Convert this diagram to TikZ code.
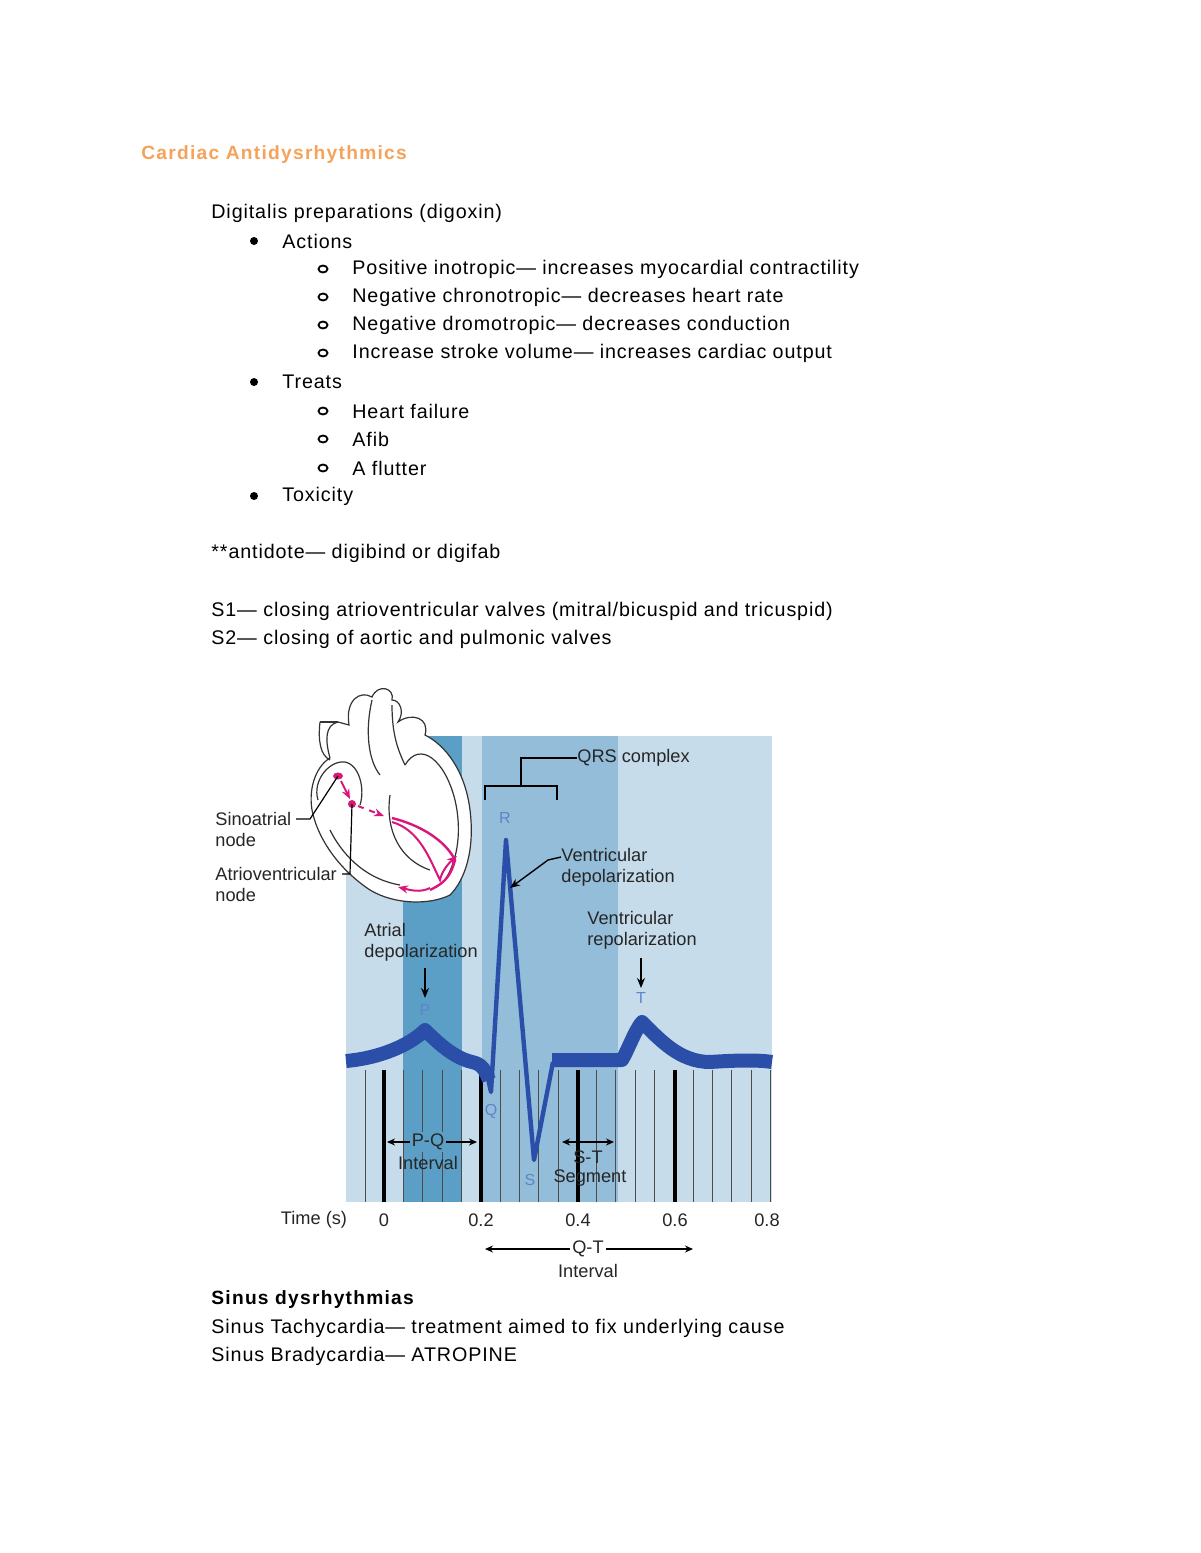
\documentclass[tikz,border=0pt]{standalone}
\usepackage{fontspec}
\setmainfont{Liberation Sans}
\usetikzlibrary{arrows.meta}
\definecolor{bgl}{HTML}{C6DCEB}
\definecolor{bgd}{HTML}{5B9FC6}
\definecolor{bgm}{HTML}{93BDD9}
\definecolor{ecg}{HTML}{2B4FA8}
\definecolor{lbl}{HTML}{5C86C8}
\definecolor{ttl}{HTML}{F5A35A}
\definecolor{pinkc}{HTML}{D9167A}
\begin{document}
\begin{tikzpicture}[x=0.5pt,y=-0.5pt,
  body/.style={anchor=west,font=\fontsize{9.85}{11}\selectfont\addfontfeature{LetterSpace=4.5},inner sep=0},
  fig/.style={font=\fontsize{9.1}{10.5}\selectfont,inner sep=0,text=black!85},
  figl/.style={fig,anchor=west,align=left},
  blbl/.style={font=\fontsize{8}{9}\selectfont,inner sep=0,text=lbl},
  arr/.style={-{Stealth[length=5pt,width=4pt]},line width=0.7pt},
  darr/.style={{Stealth[length=4pt,width=3.5pt]}-{Stealth[length=4pt,width=3.5pt]},line width=0.6pt}]
\useasboundingbox (0,0) rectangle (1200,1553);
\fill[white] (0,0) rectangle (1200,1553);
% texts
\node[body,text=ttl,font=\fontsize{9.6}{11}\selectfont\bfseries\addfontfeature{LetterSpace=6.5}] (title) at (141,155) {Cardiac Antidysrhythmics};
\node[body] (t1) at (211,213) {Digitalis preparations (digoxin)};
\foreach \y/\t in {241/Actions,382/Treats,496/Toxicity}{
  \fill (254,\y) circle (4);
  \node[body] at (282,\y) {\t};}
\foreach \y/\t in {269/{Positive inotropic— increases myocardial contractility},297/{Negative chronotropic— decreases heart rate},325/{Negative dromotropic— decreases conduction},353/{Increase stroke volume— increases cardiac output},411/{Heart failure},439/{Afib},468/{A flutter}}{
  \draw[line width=0.9pt] (323,\y) ellipse (4.5 and 3.5);
  \node[body] at (352,\y) {\t};}
\node[body] (anti) at (211,553) {**antidote— digibind or digifab};
\node[body] (s1) at (211,611) {S1— closing atrioventricular valves (mitral/bicuspid and tricuspid)};
\node[body] (s2) at (211,639) {S2— closing of aortic and pulmonic valves};
\node[body,font=\fontsize{9.6}{11}\selectfont\bfseries\addfontfeature{LetterSpace=6.5}] (sd) at (211,1300) {Sinus dysrhythmias};
\node[body] (st) at (211,1328) {Sinus Tachycardia— treatment aimed to fix underlying cause};
\node[body] (sb) at (211,1356) {Sinus Bradycardia— ATROPINE};
% chart background
\fill[bgl] (346,736) rectangle (772,1202);
\fill[bgd] (403,736) rectangle (462,1202);
\fill[bgm] (482,736) rectangle (618,1202);
% grid lines
\foreach \i in {0,...,21}{
  \pgfmathsetmacro{\xx}{365+\i*19.3}
  \draw[black!70,line width=0.5pt] (\xx,1070) -- (\xx,1202);}
\foreach \xx in {384,481,578,675}{\draw[black,line width=1.6pt] (\xx,1070) -- (\xx,1202);}
% ECG
\draw[ecg,line width=7pt,line join=round] (346,1061) .. controls (380,1058) and (410,1045) .. (425,1030) .. controls (440,1045) and (455,1058) .. (472,1062) .. controls (482,1064) and (485,1070) .. (489,1080);
\draw[ecg,line width=2.2pt,line join=round] (487,1074) -- (491,1092) -- (506,840) -- (534,1160) -- (553,1062);
\draw[ecg,line width=7pt,line join=round] (552,1060) -- (622,1060) .. controls (628,1050) and (635,1030) .. (642,1022) .. controls (660,1040) and (680,1062) .. (710,1062) .. controls (740,1060) and (760,1060) .. (772,1062);
% labels on trace
\node[blbl] (P) at (425,1010) {P};
\node[blbl] (T) at (641,998) {T};
\node[blbl] (R) at (505,818) {R};
\node[blbl] (Q) at (491,1111) {Q};
\node[blbl] (S) at (530,1180) {S};
\node[figl] (ad) at (364,942) {Atrial\\depolarization};
\coordinate (ada) at (425,968);
\draw[arr] (ada) -- (425,998);
\node[figl] (vr) at (587,930) {Ventricular\\repolarization};
\coordinate (vra) at (641,958);
\draw[arr] (vra) -- (641,988);
\node[figl] (vd) at (561,867) {Ventricular\\depolarization};
\coordinate (vdt) at (510,888);
\draw[arr] (561,857) -- (548,860) -- (vdt);
\node[figl] (qrs) at (577,758) {QRS complex};
\draw[line width=0.8pt] (485,800) -- (485,786) -- (557,786) -- (557,800);
\draw[line width=0.8pt] (521,786) -- (521,758) -- (qrs.west);
% intervals
\draw[darr] (387,1142) -- (477,1142);
\node[fig,fill=bgd,inner sep=1pt] (pq) at (428,1142) {P-Q};
\node[fig] (pqi) at (428,1163) {Interval};
\draw[darr] (562,1142) -- (614,1142);
\node[fig] (stl) at (588,1157) {S-T};
\node[fig] (stl2) at (590,1178) {Segment};
\draw[darr] (485,1249) -- (693,1249);
\node[fig,fill=white,inner sep=1pt] (qt) at (588,1249) {Q-T};
\node[fig] (qti) at (588,1271) {Interval};
\node[fig] (time) at (314,1220) {Time (s)};
\foreach \xx/\t in {384/0,481/0.2,578/0.4,675/0.6,767/0.8}{\node[fig] at (\xx,1220) {\t};}
% heart
\begin{scope}[line width=0.6pt,draw=black!80]
\draw[fill=white] (349,725) .. controls (345,700) and (360,690) .. (372,697) .. controls (378,683) and (395,688) .. (392,700) .. controls (400,700) and (405,712) .. (398,722) .. controls (412,712) and (430,718) .. (425,735) .. controls (445,745) and (465,770) .. (470,810) .. controls (475,850) and (465,880) .. (450,895) .. controls (430,905) and (395,905) .. (370,890) .. controls (340,870) and (318,840) .. (312,810) .. controls (308,785) and (318,765) .. (330,758) .. controls (325,740) and (325,725) .. (338,722) -- cycle;
\draw (320,722) .. controls (318,740) and (320,755) .. (330,760);
\draw (320,722) -- (338,722);
\draw (318,800) .. controls (312,780) and (330,760) .. (345,762) .. controls (360,765) and (365,790) .. (360,805);
\draw (372,700) .. controls (365,730) and (368,760) .. (380,775);
\draw (392,705) .. controls (392,735) and (398,750) .. (405,765);
\draw (405,765) .. controls (420,740) and (445,760) .. (455,800) .. controls (462,830) and (458,860) .. (445,880);
\draw (390,795) .. controls (385,830) and (400,860) .. (430,870);
\draw (330,830) .. controls (345,860) and (370,880) .. (400,885);
\end{scope}
\coordinate (san) at (338,776);
\coordinate (avn) at (352,804);
\fill[pinkc] (san) ellipse (5 and 3.5);
\fill[pinkc] (avn) ellipse (4 and 4);
\begin{scope}[pinkc,line width=1.2pt]
\draw[arr,line width=1pt] (341,781) -- (350,799);
\draw[arr,line width=1pt,dashed] (358,806) -- (384,816);
\draw (392,818) .. controls (420,825) and (445,840) .. (455,860) .. controls (450,880) and (440,885) .. (430,890);
\draw[arr,line width=1pt] (392,822) .. controls (420,830) and (430,860) .. (440,880) .. controls (442,870) and (450,862) .. (457,856);
\draw[arr,line width=1pt] (430,888) .. controls (420,893) and (410,890) .. (398,887);
\end{scope}
\node[figl] (san-l) at (215,829) {Sinoatrial\\node};
\node[figl] (avn-l) at (215,884) {Atrioventricular\\node};
\draw[line width=0.6pt] (296,819) -- (310,819) -- (san);
\draw[line width=0.6pt] (342,874) -- (350,874) -- (avn);
\end{tikzpicture}
\end{document}
